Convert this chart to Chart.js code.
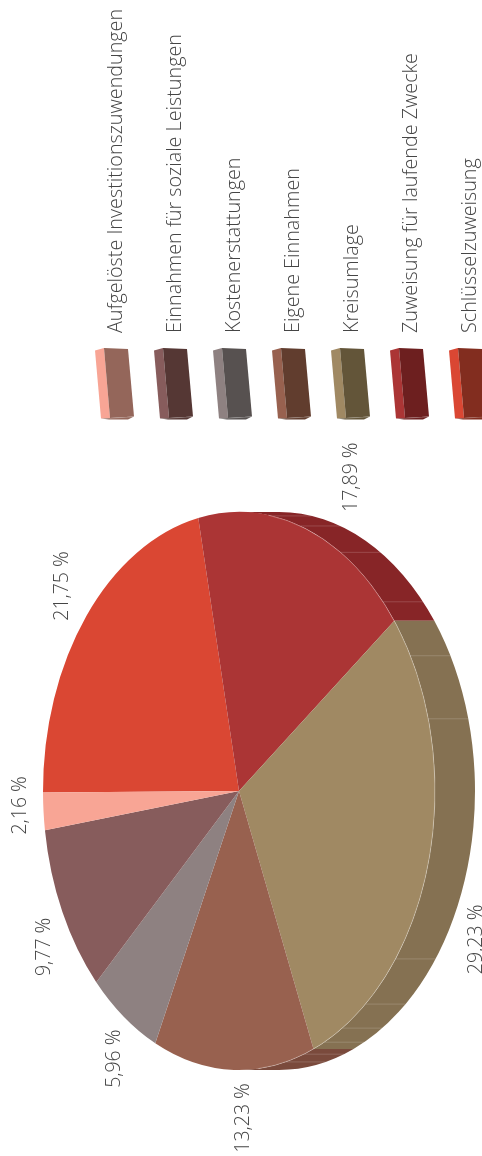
<!DOCTYPE html>
<html lang="de">
<head>
<meta charset="utf-8">
<title>Erträge</title>
<script src="https://cdn.jsdelivr.net/npm/chart.js@4"></script>
<style>
  html, body { margin: 0; background: #fff; }
  canvas { display: block; }
</style>
</head>
<body>
<canvas id="pie" width="482" height="1156"></canvas>
<script>
const categories = ['Schlüsselzuweisung', 'Zuweisung für laufende Zwecke', 'Kreisumlage', 'Eigene Einnahmen',
  'Kostenerstattungen', 'Einnahmen für soziale Leistungen', 'Aufgelöste Investitionszuwendungen'];
const shares = [21.75, 17.89, 29.23, 13.23, 5.96, 9.77, 2.16];
const shareLabels = ['21,75 %', '17,89 %', '29,23 %', '13,23 %', '5,96 %', '9,77 %', '2,16 %'];

const topColors = ['#da4733', '#ab3535', '#a08963', '#98614f', '#8e8181', '#875c5c', '#f8a595'];
const wallColors = ['#8e3324', '#872527', '#857152', '#7a4a3c', '#6f6464', '#6b4747', '#c4806f'];
const swatchFronts = ['#822d1f', '#6d1f1f', '#635539', '#613d2e', '#575150', '#553734', '#94665a'];

// where the facets of the side wall meet, degrees clockwise from the top of the pie
const seamAngles = [9.6, 18.2, 31.2, 47.3, 61, 75, 127, 139.8, 148.2, 154.2, 160.6, 166.2];
// label shift away from the rim point of each slice
const labelNudge = [[-25, -30], [43, -52], [47, 76], [8, 48], [-11, 42], [-19, 35], [-25, -6]];

const SQUASH = 279 / 196;  // pie is tilted, so stretched along y
const DEPTH = 40;          // wall thickness, sideways
const TEXT = '#454545';
const LABEL_FONT = '300 19.5px "Open Sans"';
const LEGEND_FONT = '300 19.75px "Open Sans"';

function verticalText(ctx, text, x, y, align) {
  ctx.save();
  ctx.translate(x, y);
  ctx.rotate(-Math.PI / 2);
  ctx.textAlign = align;
  ctx.textBaseline = 'alphabetic';
  ctx.fillText(text, 0, 0);
  ctx.restore();
}

function poly(ctx, pts, fill) {
  ctx.beginPath();
  pts.forEach(([x, y], i) => (i ? ctx.lineTo(x, y) : ctx.moveTo(x, y)));
  ctx.closePath();
  ctx.fillStyle = fill;
  ctx.fill();
}

const tiltedPie = {
  id: 'tiltedPie',
  beforeDatasetsDraw(chart) {
    const { ctx } = chart;
    const arcs = chart.getDatasetMeta(0).data;
    const { x: cx, y: cy, outerRadius: r } = arcs[0];
    ctx.save();
    ctx.translate(cx, cy);
    ctx.scale(1, SQUASH);
    ctx.translate(-cx, -cy);

    // side wall: arcs start near pi with this rotation, so the right half is 1.5pi to 2.5pi
    arcs.forEach((arc, i) => {
      const a0 = Math.max(arc.startAngle, 1.5 * Math.PI);
      const a1 = Math.min(arc.endAngle, 2.5 * Math.PI);
      if (a1 <= a0) return;
      ctx.beginPath();
      ctx.arc(cx + DEPTH, cy, r, a0, a1);
      ctx.arc(cx, cy, r, a1, a0, true);
      ctx.closePath();
      ctx.fillStyle = wallColors[i];
      ctx.fill();
    });

    ctx.strokeStyle = 'rgba(255,255,255,0.2)';
    ctx.lineWidth = 0.7;
    seamAngles.forEach((deg) => {
      const a = (deg - 90) * Math.PI / 180;
      const x = cx + r * Math.cos(a);
      const y = cy + r * Math.sin(a);
      ctx.beginPath();
      ctx.moveTo(x, y);
      ctx.lineTo(x + DEPTH, y);
      ctx.stroke();
    });
  },
  afterDatasetsDraw(chart) {
    const { ctx } = chart;
    const arcs = chart.getDatasetMeta(0).data;
    const { x: cx, y: cy, outerRadius: r } = arcs[0];

    // thin light rim between top face and wall
    ctx.beginPath();
    ctx.arc(cx, cy, r, -Math.PI / 2 + 0.15, Math.PI / 2 - 0.1);
    ctx.strokeStyle = 'rgba(255,255,255,0.35)';
    ctx.lineWidth = 0.7;
    ctx.stroke();
    ctx.restore();

    ctx.fillStyle = TEXT;
    ctx.font = LABEL_FONT;
    arcs.forEach((arc, i) => {
      const mid = (arc.startAngle + arc.endAngle) / 2;
      const x = cx + r * Math.cos(mid) + labelNudge[i][0];
      const y = cy + r * SQUASH * Math.sin(mid) + labelNudge[i][1];
      verticalText(ctx, shareLabels[i], x + 7, y, 'center');
    });

    drawLegend(ctx);
  }
};

// legend runs right to left, each key a small block standing on end
function drawLegend(ctx) {
  categories.forEach((name, i) => {
    const x = 449 - 59 * i;
    const y = 348;
    poly(ctx, [[x, y + 2.5], [x + 9, y], [x + 15, y + 70], [x + 6, y + 70.5]], topColors[i]);
    poly(ctx, [[x + 9, y], [x + 33, y + 1], [x + 39, y + 68.5], [x + 15, y + 70]], swatchFronts[i]);
    poly(ctx, [[x + 6, y + 70.5], [x + 39, y + 68.5], [x + 33, y + 71.5], [x + 14, y + 71.5]], swatchFronts[i]);
    poly(ctx, [[x + 6, y + 70.5], [x + 39, y + 68.5], [x + 39, y + 69.2], [x + 6, y + 71.2]], 'rgba(255,255,255,0.25)');
    ctx.fillStyle = TEXT;
    ctx.font = LEGEND_FONT;
    verticalText(ctx, name, x + 26.5, 333, 'left');
  });
}

new Chart(document.getElementById('pie'), {
  type: 'pie',
  data: {
    labels: categories,
    datasets: [{ data: shares, backgroundColor: topColors, borderWidth: 0, clip: false }]
  },
  options: {
    responsive: false,
    animation: false,
    rotation: 269.7,
    layout: { padding: { left: 43, right: 47, top: 595, bottom: 169 } },
    plugins: { legend: { display: false }, tooltip: { enabled: false } }
  },
  plugins: [tiltedPie]
});
</script>
</body>
</html>
